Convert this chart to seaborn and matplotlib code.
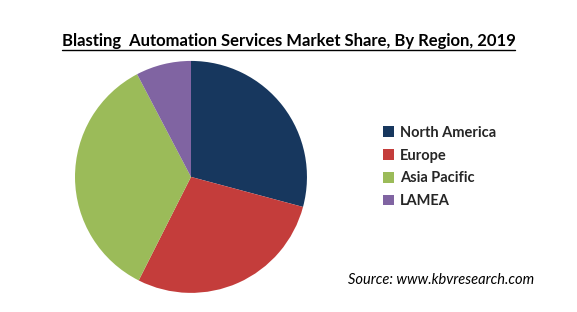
import matplotlib
matplotlib.use("Agg")
import matplotlib.pyplot as plt
import seaborn as sns
from matplotlib.lines import Line2D
from matplotlib.patches import Patch

regions = ["North America", "Europe", "Asia Pacific", "LAMEA"]
shares = [29.2, 28.3, 34.9, 7.7]
colors = ["#17375E", "#C43D3B", "#9BBB59", "#8064A2"]
title = "Blasting  Automation Services Market Share, By Region, 2019"
source = "Source: www.kbvresearch.com"

sns.set_theme(style="white")
plt.rcParams['font.family'] = ['Lato', 'DejaVu Sans']

fig = plt.figure(figsize=(5.77, 3.12), dpi=100)
fig.patch.set_facecolor("white")

ax = fig.add_axes([0.130, 0.061, 0.402, 0.744])
ax.pie(shares, colors=colors, startangle=90, counterclock=False,
       wedgeprops=dict(linewidth=0))
ax.set_xlim(-1.0, 1.0)
ax.set_ylim(-1.0, 1.0)
ax.set_aspect("equal")
ax.axis("off")

t = fig.text(0.5, 0.852, title, ha="center", va="baseline",
             fontsize=12.0, fontweight="bold", color="black")
fig.canvas.draw()
bb = t.get_window_extent(renderer=fig.canvas.get_renderer())
inv = fig.transFigure.inverted()
(x0, y0), (x1, y1) = inv.transform([[bb.x0, bb.y0], [bb.x1, bb.y1]])
fig.add_artist(Line2D([x0, x1], [y0 - 0.002, y0 - 0.002], color="black",
                      linewidth=1.0, transform=fig.transFigure))

handles = [Patch(facecolor=c, edgecolor="none", label=r) for r, c in zip(regions, colors)]
leg = fig.legend(handles=handles, loc="upper left", bbox_to_anchor=(0.652, 0.62),
                 frameon=False, prop=dict(size=10.5, weight="bold"),
                 handlelength=0.75, handleheight=0.75, handletextpad=0.4,
                 labelspacing=0.6, borderpad=0)

fig.text(0.925, 0.09, source, ha="right", va="baseline", fontsize=10.5,
         fontstyle="italic", color="black")

fig.savefig("out.png", dpi=100)
